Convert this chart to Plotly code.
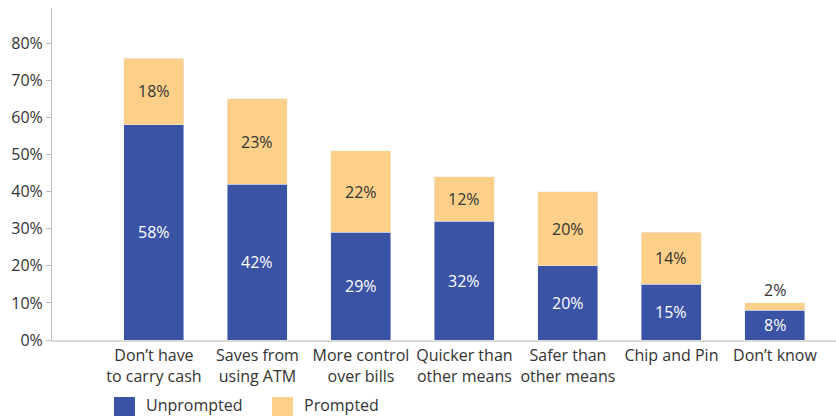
import plotly.graph_objects as go

categories = [
    "Don’t have<br>to carry cash",
    "Saves from<br>using ATM",
    "More control<br>over bills",
    "Quicker than<br>other means",
    "Safer than<br>other means",
    "Chip and Pin",
    "Don’t know",
]
unprompted = [58, 42, 29, 32, 20, 15, 8]
prompted = [18, 23, 22, 12, 20, 14, 2]
series_names = ["Unprompted", "Prompted"]
tick_values = [0, 10, 20, 30, 40, 50, 60, 70, 80]
tick_labels = ["0%", "10%", "20%", "30%", "40%", "50%", "60%", "70%", "80%"]

BLUE = "#3A53A4"
ORANGE = "#FDD08A"
FONT = "Open Sans, Noto Sans, sans-serif"
TEXT = "#333333"
FS = 16

x = list(range(len(categories)))
bar_w = 0.58

fig = go.Figure()
fig.add_trace(go.Bar(x=x, y=unprompted, name=series_names[0], marker_color=BLUE,
                     width=bar_w, showlegend=False))
fig.add_trace(go.Bar(x=x, y=prompted, name=series_names[1], marker_color=ORANGE,
                     width=bar_w, showlegend=False))

annotations = []
for i, (u, p) in enumerate(zip(unprompted, prompted)):
    annotations.append(dict(x=i, y=u / 2, text=f"{u}%", showarrow=False,
                            font=dict(color="white", size=FS, family=FONT)))
    if p >= 5:
        annotations.append(dict(x=i, y=u + p / 2, text=f"{p}%", showarrow=False,
                                font=dict(color=TEXT, size=FS, family=FONT)))
    else:
        annotations.append(dict(x=i, y=u + p, text=f"{p}%", showarrow=False,
                                yanchor="bottom", yshift=0,
                                font=dict(color=TEXT, size=FS, family=FONT)))

# legend drawn as swatches + labels below the axis
legend_items = [(BLUE, series_names[0], 114), (ORANGE, series_names[1], 272)]
shapes = []
for color, label, px in legend_items:
    shapes.append(dict(type="rect", xref="paper", yref="paper",
                       x0=(px - 52) / 784, x1=(px + 21 - 52) / 784,
                       y0=-(397 - 340) / 332 - 19 / 332, y1=-(397 - 340) / 332,
                       fillcolor=color, line=dict(width=0)))
    annotations.append(dict(xref="paper", yref="paper", x=(px + 30 - 52) / 784,
                            y=-(405 - 340) / 332, text=label, showarrow=False,
                            xanchor="left", yanchor="middle",
                            font=dict(color=TEXT, size=FS, family=FONT)))

fig.update_layout(
    barmode="stack",
    width=836, height=416,
    margin=dict(l=52, r=0, t=8, b=76),
    paper_bgcolor="white", plot_bgcolor="white",
    font=dict(family=FONT, size=FS, color=TEXT),
    annotations=annotations,
    shapes=shapes,
    xaxis=dict(
        tickmode="array", tickvals=x, ticktext=categories,
        range=[-0.985, 6.59], showgrid=False, zeroline=False,
        showline=True, linecolor="#D9D9D9", linewidth=2,
        ticks="", tickfont=dict(size=FS, color=TEXT),
    ),
    yaxis=dict(
        tickmode="array", tickvals=tick_values, ticktext=tick_labels,
        range=[0, 89.5], showgrid=False, zeroline=False,
        showline=True, linecolor="#BBBBC4", linewidth=1,
        ticks="outside", ticklen=5, tickcolor="#BBBBC4",
        tickfont=dict(size=FS, color=TEXT),
    ),
)

fig.write_html("out.html")
